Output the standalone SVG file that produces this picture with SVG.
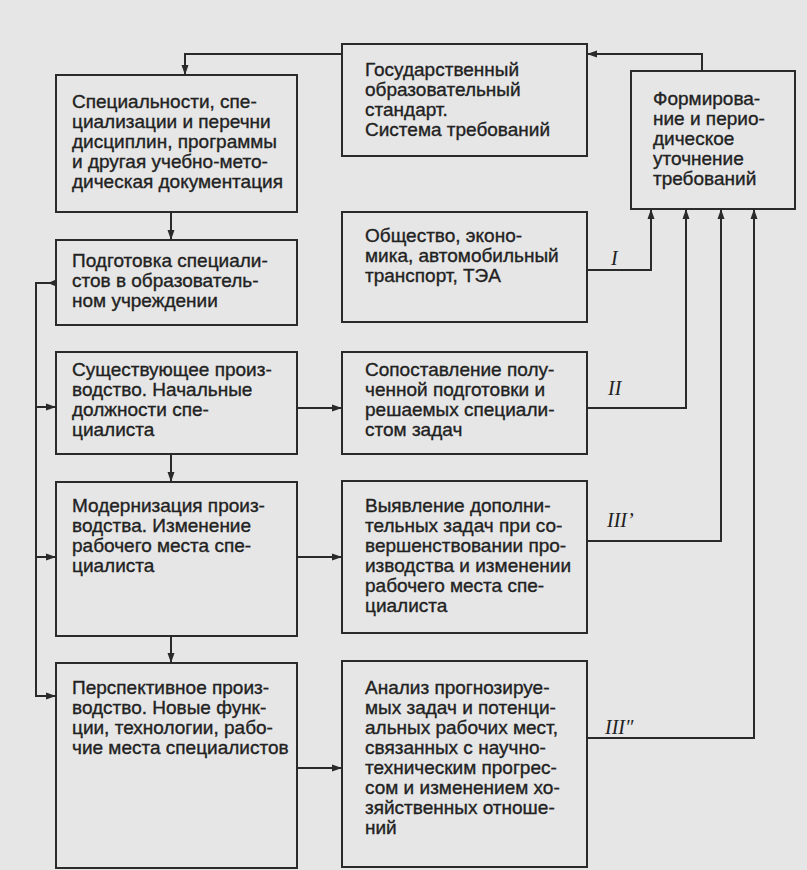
<svg xmlns="http://www.w3.org/2000/svg" width="807" height="870" viewBox="0 0 807 870">
<style>
.bg{fill:#e6e6e6}
.box{fill:#e6e6e6;stroke:#2a2a2a;stroke-width:2}
.t{font-family:"Liberation Sans",Arial,sans-serif;font-size:19px;fill:#222;stroke:#222;stroke-width:0.35}
.c{fill:none;stroke:#2a2a2a;stroke-width:2}
.lab{font-family:"Liberation Serif","Times New Roman",serif;font-style:italic;font-size:20px;fill:#222}
</style>
<defs>
<marker id="ah" markerUnits="userSpaceOnUse" markerWidth="10" markerHeight="8" refX="10" refY="4" orient="auto">
<path d="M0,0.5 L10,4 L0,7.5 z" fill="#2a2a2a"/>
</marker>
</defs>
<rect class="bg" x="0" y="0" width="807" height="870"/>

<g id="n1">
<rect class="box" x="56" y="75" width="241" height="137"/>
<text class="t" x="72" y="108">Специальности, спе-</text>
<text class="t" x="72" y="128">циализации и перечни</text>
<text class="t" x="72" y="148">дисциплин, программы</text>
<text class="t" x="72" y="168">и другая учебно-мето-</text>
<text class="t" x="72" y="188">дическая документация</text>
</g>
<g id="n2">
<rect class="box" x="56" y="240" width="241" height="85"/>
<text class="t" x="72" y="267">Подготовка специали-</text>
<text class="t" x="72" y="287">стов в образователь-</text>
<text class="t" x="72" y="307">ном учреждении</text>
</g>
<g id="n3">
<rect class="box" x="56" y="352" width="241" height="102"/>
<text class="t" x="72" y="376">Существующее произ-</text>
<text class="t" x="72" y="396">водство. Начальные</text>
<text class="t" x="72" y="416">должности спе-</text>
<text class="t" x="72" y="436">циалиста</text>
</g>
<g id="n4">
<rect class="box" x="56" y="482" width="241" height="154"/>
<text class="t" x="72" y="512">Модернизация произ-</text>
<text class="t" x="72" y="532">водства. Изменение</text>
<text class="t" x="72" y="552">рабочего места спе-</text>
<text class="t" x="72" y="572">циалиста</text>
</g>
<g id="n5">
<rect class="box" x="56" y="663" width="241" height="205"/>
<text class="t" x="72" y="694">Перспективное произ-</text>
<text class="t" x="72" y="714">водство. Новые функ-</text>
<text class="t" x="72" y="734">ции, технологии, рабо-</text>
<text class="t" x="72" y="754">чие места специалистов</text>
</g>
<g id="n6">
<rect class="box" x="342" y="44" width="245" height="112"/>
<text class="t" x="365" y="76">Государственный</text>
<text class="t" x="365" y="96">образовательный</text>
<text class="t" x="365" y="116">стандарт.</text>
<text class="t" x="365" y="136">Система требований</text>
</g>
<g id="n7">
<rect class="box" x="631" y="71" width="164" height="138"/>
<text class="t" x="653" y="105">Формирова-</text>
<text class="t" x="653" y="125">ние и перио-</text>
<text class="t" x="653" y="145">дическое</text>
<text class="t" x="653" y="165">уточнение</text>
<text class="t" x="653" y="185">требований</text>
</g>
<g id="n8">
<rect class="box" x="342" y="212" width="245" height="110"/>
<text class="t" x="365" y="242">Общество, эконо-</text>
<text class="t" x="365" y="262">мика, автомобильный</text>
<text class="t" x="365" y="282">транспорт, ТЭА</text>
</g>
<g id="n9">
<rect class="box" x="342" y="352" width="245" height="102"/>
<text class="t" x="365" y="376">Сопоставление полу-</text>
<text class="t" x="365" y="396">ченной подготовки и</text>
<text class="t" x="365" y="416">решаемых специали-</text>
<text class="t" x="365" y="436">стом задач</text>
</g>
<g id="n10">
<rect class="box" x="342" y="481" width="245" height="152"/>
<text class="t" x="365" y="512">Выявление дополни-</text>
<text class="t" x="365" y="532">тельных задач при со-</text>
<text class="t" x="365" y="552">вершенствовании про-</text>
<text class="t" x="365" y="572">изводства и изменении</text>
<text class="t" x="365" y="592">рабочего места спе-</text>
<text class="t" x="365" y="612">циалиста</text>
</g>
<g id="n11">
<rect class="box" x="342" y="661" width="245" height="206"/>
<text class="t" x="365" y="694">Анализ прогнозируе-</text>
<text class="t" x="365" y="714">мых задач и потенци-</text>
<text class="t" x="365" y="734">альных рабочих мест,</text>
<text class="t" x="365" y="754">связанных с научно-</text>
<text class="t" x="365" y="774">техническим прогрес-</text>
<text class="t" x="365" y="794">сом и изменением хо-</text>
<text class="t" x="365" y="814">зяйственных отноше-</text>
<text class="t" x="365" y="834">ний</text>
</g>

<g id="connectors">
<polyline class="c" points="342,54 185,54 185,75" marker-end="url(#ah)"/>
<polyline class="c" points="702,71 702,54 587,54" marker-end="url(#ah)"/>
<line class="c" x1="171" y1="212" x2="171" y2="240" marker-end="url(#ah)"/>
<line class="c" x1="171" y1="454" x2="171" y2="482" marker-end="url(#ah)"/>
<line class="c" x1="171" y1="636" x2="171" y2="663" marker-end="url(#ah)"/>
<polyline class="c" points="56,283 36,283 36,696 56,696" marker-end="url(#ah)"/>
<polygon points="56,279.5 48,283 56,286.5" fill="#2a2a2a"/>
<line class="c" x1="36" y1="407" x2="56" y2="407" marker-end="url(#ah)"/>
<line class="c" x1="36" y1="557" x2="56" y2="557" marker-end="url(#ah)"/>
<line class="c" x1="297" y1="408" x2="342" y2="408" marker-end="url(#ah)"/>
<line class="c" x1="297" y1="557" x2="342" y2="557" marker-end="url(#ah)"/>
<line class="c" x1="297" y1="768" x2="342" y2="768" marker-end="url(#ah)"/>
<polyline class="c" points="587,270 651,270 651,209" marker-end="url(#ah)"/>
<polyline class="c" points="587,408 686,408 686,209" marker-end="url(#ah)"/>
<polyline class="c" points="587,541 721,541 721,209" marker-end="url(#ah)"/>
<polyline class="c" points="587,738 754,738 754,209" marker-end="url(#ah)"/>
<text class="lab" x="611" y="265">I</text>
<text class="lab" x="608" y="395">II</text>
<text class="lab" x="607" y="527">III’</text>
<text class="lab" x="605" y="734">III″</text>
</g>
</svg>
